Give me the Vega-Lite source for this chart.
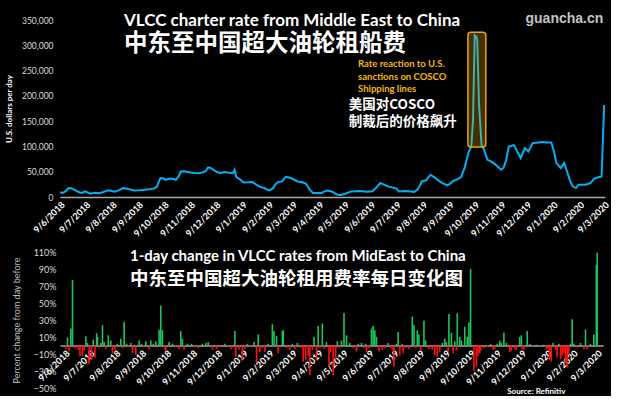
{
  "$schema": "https://vega.github.io/schema/vega-lite/v6.json",
  "background": "black",
  "padding": {"left": 5, "top": 11, "right": 0, "bottom": 0},
  "bounds": "flush",
  "spacing": 55,
  "config": {
    "view": {"stroke": null},
    "font": "Lato",
    "axis": {"grid": false, "ticks": false, "labelFont": "Lato", "titleFont": "Lato"}
  },
  "datasets": {
    "rate": [
      {"d": "2018-06-09", "v": 9000}, {"d": "2018-06-13", "v": 8500}, {"d": "2018-06-16", "v": 12000}, {"d": "2018-06-19", "v": 17800},
      {"d": "2018-06-22", "v": 17500}, {"d": "2018-06-26", "v": 14000}, {"d": "2018-07-02", "v": 9000}, {"d": "2018-07-05", "v": 8000},
      {"d": "2018-07-08", "v": 11000}, {"d": "2018-07-11", "v": 9500}, {"d": "2018-07-14", "v": 6500}, {"d": "2018-07-20", "v": 8500},
      {"d": "2018-07-25", "v": 7500}, {"d": "2018-07-29", "v": 9500}, {"d": "2018-08-04", "v": 13000}, {"d": "2018-08-08", "v": 12500},
      {"d": "2018-08-12", "v": 10500}, {"d": "2018-08-17", "v": 13000}, {"d": "2018-08-22", "v": 17700}, {"d": "2018-08-27", "v": 16500},
      {"d": "2018-09-04", "v": 13000}, {"d": "2018-09-10", "v": 13500}, {"d": "2018-09-17", "v": 14500}, {"d": "2018-09-24", "v": 15800},
      {"d": "2018-09-28", "v": 17000}, {"d": "2018-10-01", "v": 21000}, {"d": "2018-10-03", "v": 30000}, {"d": "2018-10-05", "v": 37500},
      {"d": "2018-10-08", "v": 37000}, {"d": "2018-10-11", "v": 34000}, {"d": "2018-10-14", "v": 35500}, {"d": "2018-10-18", "v": 36500},
      {"d": "2018-10-23", "v": 34000}, {"d": "2018-10-26", "v": 40000}, {"d": "2018-10-29", "v": 50500}, {"d": "2018-11-02", "v": 51000},
      {"d": "2018-11-07", "v": 49000}, {"d": "2018-11-14", "v": 47300}, {"d": "2018-11-19", "v": 47000}, {"d": "2018-11-23", "v": 48600},
      {"d": "2018-11-27", "v": 51000}, {"d": "2018-11-30", "v": 58500}, {"d": "2018-12-03", "v": 57500}, {"d": "2018-12-07", "v": 52600},
      {"d": "2018-12-11", "v": 49000}, {"d": "2018-12-15", "v": 47300}, {"d": "2018-12-19", "v": 49300}, {"d": "2018-12-24", "v": 47800},
      {"d": "2018-12-29", "v": 47300}, {"d": "2018-12-31", "v": 54000}, {"d": "2019-01-02", "v": 39500}, {"d": "2019-01-06", "v": 35500},
      {"d": "2019-01-09", "v": 30800}, {"d": "2019-01-11", "v": 28900}, {"d": "2019-01-16", "v": 29000}, {"d": "2019-01-21", "v": 29500},
      {"d": "2019-01-26", "v": 24000}, {"d": "2019-01-30", "v": 20000}, {"d": "2019-02-04", "v": 17700}, {"d": "2019-02-07", "v": 14500},
      {"d": "2019-02-10", "v": 13000}, {"d": "2019-02-14", "v": 17000}, {"d": "2019-02-17", "v": 25000}, {"d": "2019-02-20", "v": 29500},
      {"d": "2019-02-25", "v": 30800}, {"d": "2019-03-01", "v": 40000}, {"d": "2019-03-05", "v": 38500}, {"d": "2019-03-09", "v": 36100},
      {"d": "2019-03-15", "v": 30800}, {"d": "2019-03-20", "v": 29500}, {"d": "2019-03-25", "v": 26200}, {"d": "2019-03-29", "v": 15000},
      {"d": "2019-04-02", "v": 7900}, {"d": "2019-04-07", "v": 8000}, {"d": "2019-04-12", "v": 7900}, {"d": "2019-04-18", "v": 13000},
      {"d": "2019-04-24", "v": 11000}, {"d": "2019-04-28", "v": 7000}, {"d": "2019-05-01", "v": 4500}, {"d": "2019-05-05", "v": 4200},
      {"d": "2019-05-09", "v": 5800}, {"d": "2019-05-13", "v": 8500}, {"d": "2019-05-17", "v": 11000}, {"d": "2019-05-22", "v": 11500},
      {"d": "2019-05-27", "v": 12000}, {"d": "2019-06-04", "v": 10500}, {"d": "2019-06-11", "v": 11500}, {"d": "2019-06-15", "v": 17700},
      {"d": "2019-06-20", "v": 27600}, {"d": "2019-06-24", "v": 25000}, {"d": "2019-06-29", "v": 21000}, {"d": "2019-07-04", "v": 19000},
      {"d": "2019-07-09", "v": 17000}, {"d": "2019-07-12", "v": 11000}, {"d": "2019-07-20", "v": 12000}, {"d": "2019-07-26", "v": 11000},
      {"d": "2019-07-30", "v": 10000}, {"d": "2019-08-03", "v": 15000}, {"d": "2019-08-05", "v": 21000}, {"d": "2019-08-08", "v": 30800},
      {"d": "2019-08-13", "v": 33000}, {"d": "2019-08-18", "v": 44000}, {"d": "2019-08-24", "v": 37500}, {"d": "2019-08-28", "v": 32000},
      {"d": "2019-09-01", "v": 27600}, {"d": "2019-09-07", "v": 23000}, {"d": "2019-09-10", "v": 26000}, {"d": "2019-09-13", "v": 30800},
      {"d": "2019-09-19", "v": 35500}, {"d": "2019-09-23", "v": 39500}, {"d": "2019-09-27", "v": 57200}, {"d": "2019-10-02", "v": 90000},
      {"d": "2019-10-05", "v": 100000}, {"d": "2019-10-07", "v": 152000}, {"d": "2019-10-09", "v": 320000}, {"d": "2019-10-11", "v": 317000},
      {"d": "2019-10-12", "v": 309000}, {"d": "2019-10-14", "v": 186000}, {"d": "2019-10-17", "v": 103000}, {"d": "2019-10-20", "v": 93400},
      {"d": "2019-10-24", "v": 73600}, {"d": "2019-10-28", "v": 70300}, {"d": "2019-11-01", "v": 66000}, {"d": "2019-11-05", "v": 60400},
      {"d": "2019-11-09", "v": 53900}, {"d": "2019-11-12", "v": 58000}, {"d": "2019-11-15", "v": 73600}, {"d": "2019-11-18", "v": 100000},
      {"d": "2019-11-21", "v": 101000}, {"d": "2019-11-24", "v": 103000}, {"d": "2019-11-28", "v": 90000}, {"d": "2019-12-02", "v": 77000},
      {"d": "2019-12-07", "v": 96700}, {"d": "2019-12-11", "v": 90000}, {"d": "2019-12-16", "v": 106600}, {"d": "2019-12-21", "v": 107500},
      {"d": "2019-12-27", "v": 108600}, {"d": "2020-01-02", "v": 108000}, {"d": "2020-01-07", "v": 107800}, {"d": "2020-01-10", "v": 90000},
      {"d": "2020-01-13", "v": 67100}, {"d": "2020-01-18", "v": 57200}, {"d": "2020-01-22", "v": 67100}, {"d": "2020-01-26", "v": 47400},
      {"d": "2020-01-29", "v": 32000}, {"d": "2020-02-01", "v": 21000}, {"d": "2020-02-05", "v": 17700}, {"d": "2020-02-08", "v": 24300},
      {"d": "2020-02-12", "v": 24000}, {"d": "2020-02-16", "v": 24300}, {"d": "2020-02-22", "v": 27600}, {"d": "2020-02-26", "v": 36100},
      {"d": "2020-03-03", "v": 39500}, {"d": "2020-03-06", "v": 40600}, {"d": "2020-03-09", "v": 182000}
    ],
    "change": [
      {"d": "2018-06-10", "p": -0.04}, {"d": "2018-06-12", "p": 0.095}, {"d": "2018-06-14", "p": -0.07}, {"d": "2018-06-16", "p": 0.2},
      {"d": "2018-06-18", "p": 0.77}, {"d": "2018-06-21", "p": -0.03}, {"d": "2018-06-25", "p": -0.05}, {"d": "2018-06-27", "p": -0.13},
      {"d": "2018-06-30", "p": -0.12}, {"d": "2018-07-02", "p": -0.06}, {"d": "2018-07-04", "p": 0.11}, {"d": "2018-07-06", "p": 0.03},
      {"d": "2018-07-08", "p": -0.22}, {"d": "2018-07-11", "p": -0.17}, {"d": "2018-07-13", "p": 0.07}, {"d": "2018-07-15", "p": -0.14},
      {"d": "2018-07-17", "p": 0.145}, {"d": "2018-07-18", "p": 0.1}, {"d": "2018-07-20", "p": -0.03}, {"d": "2018-07-22", "p": 0.03},
      {"d": "2018-07-24", "p": 0.24}, {"d": "2018-07-26", "p": 0.04}, {"d": "2018-07-28", "p": -0.04}, {"d": "2018-07-31", "p": 0.12},
      {"d": "2018-08-03", "p": 0.06}, {"d": "2018-08-05", "p": -0.09}, {"d": "2018-08-08", "p": -0.06}, {"d": "2018-08-11", "p": 0.02},
      {"d": "2018-08-15", "p": 0.08}, {"d": "2018-08-17", "p": -0.03}, {"d": "2018-08-19", "p": 0.276}, {"d": "2018-08-22", "p": 0.02},
      {"d": "2018-08-24", "p": -0.02}, {"d": "2018-08-27", "p": 0.03}, {"d": "2018-08-29", "p": -0.09}, {"d": "2018-09-02", "p": -0.11},
      {"d": "2018-09-06", "p": 0.06}, {"d": "2018-09-09", "p": 0.02}, {"d": "2018-09-11", "p": -0.02}, {"d": "2018-09-14", "p": 0.05},
      {"d": "2018-09-18", "p": -0.04}, {"d": "2018-09-20", "p": 0.06}, {"d": "2018-09-23", "p": 0.02}, {"d": "2018-09-26", "p": 0.05},
      {"d": "2018-09-30", "p": 0.186}, {"d": "2018-10-02", "p": 0.47}, {"d": "2018-10-04", "p": 0.18}, {"d": "2018-10-07", "p": -0.05},
      {"d": "2018-10-08", "p": -0.06}, {"d": "2018-10-12", "p": 0.04}, {"d": "2018-10-16", "p": 0.02}, {"d": "2018-10-20", "p": -0.02},
      {"d": "2018-10-24", "p": -0.04}, {"d": "2018-10-26", "p": 0.17}, {"d": "2018-10-28", "p": 0.08}, {"d": "2018-10-30", "p": -0.05},
      {"d": "2018-11-03", "p": 0.02}, {"d": "2018-11-08", "p": 0.02}, {"d": "2018-11-12", "p": -0.02}, {"d": "2018-11-16", "p": -0.03},
      {"d": "2018-11-21", "p": 0.02}, {"d": "2018-11-25", "p": 0.03}, {"d": "2018-11-28", "p": 0.04}, {"d": "2018-12-03", "p": -0.05},
      {"d": "2018-12-08", "p": -0.04}, {"d": "2018-12-12", "p": -0.02}, {"d": "2018-12-18", "p": 0.02}, {"d": "2018-12-22", "p": -0.02},
      {"d": "2018-12-26", "p": -0.04}, {"d": "2018-12-30", "p": 0.17}, {"d": "2018-12-31", "p": -0.14}, {"d": "2019-01-04", "p": -0.05},
      {"d": "2019-01-08", "p": -0.16}, {"d": "2019-01-11", "p": -0.04}, {"d": "2019-01-14", "p": 0.02}, {"d": "2019-01-18", "p": -0.02},
      {"d": "2019-01-22", "p": 0.04}, {"d": "2019-01-25", "p": -0.2}, {"d": "2019-01-27", "p": 0.13}, {"d": "2019-01-29", "p": -0.08},
      {"d": "2019-02-01", "p": -0.03}, {"d": "2019-02-04", "p": -0.08}, {"d": "2019-02-08", "p": 0.02}, {"d": "2019-02-13", "p": 0.25},
      {"d": "2019-02-15", "p": 0.17}, {"d": "2019-02-18", "p": 0.11}, {"d": "2019-02-20", "p": -0.09}, {"d": "2019-02-25", "p": 0.17},
      {"d": "2019-02-26", "p": 0.18}, {"d": "2019-03-02", "p": -0.03}, {"d": "2019-03-06", "p": -0.05}, {"d": "2019-03-09", "p": 0.02},
      {"d": "2019-03-12", "p": -0.04}, {"d": "2019-03-15", "p": 0.03}, {"d": "2019-03-19", "p": -0.03}, {"d": "2019-03-22", "p": -0.19},
      {"d": "2019-03-25", "p": -0.17}, {"d": "2019-03-28", "p": -0.12}, {"d": "2019-03-30", "p": -0.35}, {"d": "2019-04-02", "p": -0.05},
      {"d": "2019-04-04", "p": 0.1}, {"d": "2019-04-07", "p": -0.17}, {"d": "2019-04-09", "p": 0.23}, {"d": "2019-04-11", "p": -0.03},
      {"d": "2019-04-14", "p": 0.26}, {"d": "2019-04-16", "p": -0.04}, {"d": "2019-04-19", "p": 0.04}, {"d": "2019-04-22", "p": -0.24},
      {"d": "2019-04-24", "p": -0.08}, {"d": "2019-04-27", "p": -0.35}, {"d": "2019-04-30", "p": -0.17}, {"d": "2019-05-02", "p": 0.05},
      {"d": "2019-05-05", "p": -0.03}, {"d": "2019-05-07", "p": 0.06}, {"d": "2019-05-10", "p": 0.38}, {"d": "2019-05-13", "p": 0.12},
      {"d": "2019-05-17", "p": 0.03}, {"d": "2019-05-21", "p": -0.03}, {"d": "2019-05-25", "p": -0.07}, {"d": "2019-05-27", "p": 0.02},
      {"d": "2019-05-31", "p": 0.03}, {"d": "2019-06-03", "p": -0.03}, {"d": "2019-06-05", "p": 0.02}, {"d": "2019-06-06", "p": -0.08},
      {"d": "2019-06-09", "p": -0.03}, {"d": "2019-06-12", "p": 0.2}, {"d": "2019-06-14", "p": 0.23}, {"d": "2019-06-16", "p": 0.18},
      {"d": "2019-06-18", "p": 0.1}, {"d": "2019-06-21", "p": -0.07}, {"d": "2019-06-25", "p": -0.05}, {"d": "2019-06-28", "p": -0.03},
      {"d": "2019-07-02", "p": 0.03}, {"d": "2019-07-05", "p": -0.03}, {"d": "2019-07-08", "p": -0.07}, {"d": "2019-07-09", "p": -0.25},
      {"d": "2019-07-12", "p": 0.02}, {"d": "2019-07-14", "p": 0.16}, {"d": "2019-07-16", "p": -0.12}, {"d": "2019-07-19", "p": 0.02},
      {"d": "2019-07-20", "p": -0.09}, {"d": "2019-07-23", "p": -0.03}, {"d": "2019-07-27", "p": -0.04}, {"d": "2019-07-31", "p": 0.34},
      {"d": "2019-08-02", "p": 0.24}, {"d": "2019-08-04", "p": -0.03}, {"d": "2019-08-06", "p": 0.18}, {"d": "2019-08-08", "p": 0.13},
      {"d": "2019-08-10", "p": -0.06}, {"d": "2019-08-14", "p": 0.29}, {"d": "2019-08-16", "p": 0.06}, {"d": "2019-08-20", "p": -0.04},
      {"d": "2019-08-24", "p": -0.05}, {"d": "2019-08-27", "p": -0.11}, {"d": "2019-08-30", "p": -0.13}, {"d": "2019-09-02", "p": -0.08},
      {"d": "2019-09-05", "p": 0.03}, {"d": "2019-09-08", "p": 0.08}, {"d": "2019-09-10", "p": 0.04}, {"d": "2019-09-12", "p": -0.07},
      {"d": "2019-09-13", "p": 0.37}, {"d": "2019-09-16", "p": 0.15}, {"d": "2019-09-18", "p": -0.09}, {"d": "2019-09-20", "p": 0.05},
      {"d": "2019-09-22", "p": -0.06}, {"d": "2019-09-23", "p": 0.38}, {"d": "2019-09-26", "p": 0.1}, {"d": "2019-09-28", "p": 0.06},
      {"d": "2019-10-02", "p": 0.22}, {"d": "2019-10-05", "p": 0.1}, {"d": "2019-10-07", "p": 0.27}, {"d": "2019-10-09", "p": 0.9},
      {"d": "2019-10-13", "p": -0.3}, {"d": "2019-10-16", "p": -0.25}, {"d": "2019-10-18", "p": -0.12}, {"d": "2019-10-20", "p": -0.09},
      {"d": "2019-10-21", "p": -0.06}, {"d": "2019-10-25", "p": -0.03}, {"d": "2019-10-29", "p": -0.02}, {"d": "2019-11-02", "p": 0.02},
      {"d": "2019-11-05", "p": -0.05}, {"d": "2019-11-07", "p": -0.04}, {"d": "2019-11-10", "p": 0.02}, {"d": "2019-11-13", "p": 0.06},
      {"d": "2019-11-15", "p": 0.03}, {"d": "2019-11-18", "p": 0.15}, {"d": "2019-11-21", "p": 0.03}, {"d": "2019-11-25", "p": -0.08},
      {"d": "2019-11-27", "p": -0.06}, {"d": "2019-12-01", "p": -0.04}, {"d": "2019-12-03", "p": -0.05}, {"d": "2019-12-07", "p": 0.1},
      {"d": "2019-12-09", "p": 0.12}, {"d": "2019-12-10", "p": -0.04}, {"d": "2019-12-12", "p": -0.05}, {"d": "2019-12-16", "p": 0.17},
      {"d": "2019-12-19", "p": 0.02}, {"d": "2019-12-23", "p": -0.01}, {"d": "2019-12-27", "p": 0.01}, {"d": "2020-01-01", "p": -0.01},
      {"d": "2020-01-04", "p": 0.01}, {"d": "2020-01-08", "p": -0.05}, {"d": "2020-01-10", "p": -0.03}, {"d": "2020-01-12", "p": -0.17},
      {"d": "2020-01-14", "p": -0.19}, {"d": "2020-01-16", "p": 0.03}, {"d": "2020-01-19", "p": -0.05}, {"d": "2020-01-21", "p": -0.14},
      {"d": "2020-01-23", "p": 0.02}, {"d": "2020-01-25", "p": -0.16}, {"d": "2020-01-27", "p": -0.12}, {"d": "2020-01-29", "p": -0.09},
      {"d": "2020-01-31", "p": -0.21}, {"d": "2020-02-02", "p": -0.26}, {"d": "2020-02-04", "p": -0.11}, {"d": "2020-02-06", "p": 0.02},
      {"d": "2020-02-08", "p": 0.31}, {"d": "2020-02-10", "p": 0.02}, {"d": "2020-02-14", "p": -0.02}, {"d": "2020-02-18", "p": 0.03},
      {"d": "2020-02-22", "p": -0.04}, {"d": "2020-02-24", "p": 0.19}, {"d": "2020-02-26", "p": -0.04}, {"d": "2020-03-01", "p": 0.02},
      {"d": "2020-03-05", "p": 0.13}, {"d": "2020-03-08", "p": 0.95}, {"d": "2020-03-09", "p": 1.09}
    ]
  },
  "vconcat": [
    {
      "width": 545,
      "height": 177,
      "resolve": {"axis": {"x": "independent", "y": "independent"}},
      "title": {
        "text": "VLCC charter rate from Middle East to China",
        "subtitle": "中东至中国超大油轮租船费",
        "anchor": "start",
        "frame": "group",
        "dx": 64,
        "offset": -45,
        "color": "white",
        "font": "Lato",
        "fontSize": 17,
        "fontWeight": "bold",
        "subtitleColor": "white",
        "subtitleFont": "Noto Sans CJK SC",
        "subtitleFontSize": 23.5,
        "subtitleFontWeight": "bold",
        "subtitlePadding": 2
      },
      "layer": [
        {
          "data": {"name": "rate"},
          "mark": {"type": "line", "color": "#00b0f0", "strokeWidth": 2},
          "encoding": {
            "x": {
              "field": "d", "type": "temporal",
              "scale": {"type": "utc", "domain": [{"year": 2018, "month": 6, "date": 9, "utc": true}, {"year": 2020, "month": 3, "date": 10, "utc": true}]},
              "axis": {
                "title": null,
                "values": [
                  {"year": 2018, "month": 6, "date": 9, "utc": true}, {"year": 2018, "month": 7, "date": 9, "utc": true},
                  {"year": 2018, "month": 8, "date": 9, "utc": true}, {"year": 2018, "month": 9, "date": 9, "utc": true},
                  {"year": 2018, "month": 10, "date": 9, "utc": true}, {"year": 2018, "month": 11, "date": 9, "utc": true},
                  {"year": 2018, "month": 12, "date": 9, "utc": true}, {"year": 2019, "month": 1, "date": 9, "utc": true},
                  {"year": 2019, "month": 2, "date": 9, "utc": true}, {"year": 2019, "month": 3, "date": 9, "utc": true},
                  {"year": 2019, "month": 4, "date": 9, "utc": true}, {"year": 2019, "month": 5, "date": 9, "utc": true},
                  {"year": 2019, "month": 6, "date": 9, "utc": true}, {"year": 2019, "month": 7, "date": 9, "utc": true},
                  {"year": 2019, "month": 8, "date": 9, "utc": true}, {"year": 2019, "month": 9, "date": 9, "utc": true},
                  {"year": 2019, "month": 10, "date": 9, "utc": true}, {"year": 2019, "month": 11, "date": 9, "utc": true},
                  {"year": 2019, "month": 12, "date": 9, "utc": true}, {"year": 2020, "month": 1, "date": 9, "utc": true},
                  {"year": 2020, "month": 2, "date": 9, "utc": true}, {"year": 2020, "month": 3, "date": 9, "utc": true}
                ],
                "format": "%-d/%-m/%Y",
                "labelAngle": -45,
                "labelColor": "white",
                "labelFontSize": 9,
                "labelFontWeight": "bold",
                "labelPadding": 3,
                "labelOverlap": false,
                "labelBound": false,
                "labelFlush": false,
                "domainColor": "#a6a6a6",
                "domainWidth": 1.5
              }
            },
            "y": {
              "field": "v", "type": "quantitative",
              "scale": {"domain": [0, 350000], "nice": false},
              "axis": {
                "title": "U.S. dollars per day",
                "titleColor": "white",
                "titleFontSize": 8,
                "titleFontWeight": "bold",
                "titlePadding": 8,
                "values": [0, 50000, 100000, 150000, 200000, 250000, 300000, 350000],
                "format": ",.0f",
                "labelOverlap": false,
                "labelColor": "#d9d9d9",
                "labelFontSize": 8.5,
                "labelPadding": 7,
                "domain": false
              }
            }
          }
        },
        {
          "data": {"values": [{}]},
          "mark": {"type": "rect", "fill": "#f0a800", "fillOpacity": 0.28, "stroke": "#e8a60c", "strokeWidth": 1.5, "cornerRadius": 3},
          "encoding": {
            "x": {"datum": {"year": 2019, "month": 10, "date": 1, "utc": true}, "type": "temporal", "axis": null},
            "x2": {"datum": {"year": 2019, "month": 10, "date": 22, "utc": true}},
            "y": {"datum": 99000, "type": "quantitative", "axis": null},
            "y2": {"datum": 326000}
          }
        },
        {
          "data": {"values": [{}]},
          "mark": {"type": "text", "text": ["Rate reaction to U.S.", "sanctions on COSCO", "Shipping lines"], "align": "left", "baseline": "top", "color": "#f5b800", "fontSize": 9.5, "fontWeight": "bold", "font": "Lato", "lineHeight": 12.5},
          "encoding": {
            "x": {"datum": {"year": 2019, "month": 5, "date": 25, "utc": true}, "type": "temporal", "axis": null},
            "y": {"datum": 272000, "type": "quantitative", "axis": null}
          }
        },
        {
          "data": {"values": [{}]},
          "mark": {"type": "text", "text": ["美国对COSCO", "制裁后的价格飙升"], "align": "left", "baseline": "top", "color": "white", "fontSize": 13.5, "fontWeight": "bold", "font": "Noto Sans CJK SC", "lineHeight": 17.5},
          "encoding": {
            "x": {"datum": {"year": 2019, "month": 5, "date": 14, "utc": true}, "type": "temporal", "axis": null},
            "y": {"datum": 196000, "type": "quantitative", "axis": null}
          }
        },
        {
          "data": {"values": [{}]},
          "mark": {"type": "text", "text": "guancha.cn", "align": "right", "baseline": "middle", "color": "#c4c4c4", "fontSize": 14, "fontWeight": "bold", "font": "Liberation Sans"},
          "encoding": {
            "x": {"datum": {"year": 2020, "month": 3, "date": 8, "utc": true}, "type": "temporal", "axis": null},
            "y": {"datum": 352000, "type": "quantitative", "axis": null}
          }
        }
      ]
    },
    {
      "width": 543,
      "height": 136,
      "resolve": {"axis": {"x": "independent", "y": "independent"}},
      "title": {
        "text": "1-day change in VLCC rates from MidEast to China",
        "subtitle": "中东至中国超大油轮租用费率每日变化图",
        "anchor": "start",
        "frame": "group",
        "dx": 70,
        "offset": -40,
        "color": "white",
        "font": "Lato",
        "fontSize": 15,
        "fontWeight": "bold",
        "subtitleColor": "white",
        "subtitleFont": "Noto Sans CJK SC",
        "subtitleFontSize": 18.5,
        "subtitleFontWeight": "bold",
        "subtitlePadding": 6
      },
      "layer": [
        {
          "data": {"name": "change"},
          "mark": {"type": "bar", "width": 1.6},
          "encoding": {
            "x": {
              "field": "d", "type": "temporal",
              "scale": {"type": "utc", "domain": [{"year": 2018, "month": 6, "date": 9, "utc": true}, {"year": 2020, "month": 3, "date": 10, "utc": true}]},
              "axis": {
                "title": null,
                "offset": -42.5,
                "values": [
                  {"year": 2018, "month": 6, "date": 9, "utc": true}, {"year": 2018, "month": 7, "date": 9, "utc": true},
                  {"year": 2018, "month": 8, "date": 9, "utc": true}, {"year": 2018, "month": 9, "date": 9, "utc": true},
                  {"year": 2018, "month": 10, "date": 9, "utc": true}, {"year": 2018, "month": 11, "date": 9, "utc": true},
                  {"year": 2018, "month": 12, "date": 9, "utc": true}, {"year": 2019, "month": 1, "date": 9, "utc": true},
                  {"year": 2019, "month": 2, "date": 9, "utc": true}, {"year": 2019, "month": 3, "date": 9, "utc": true},
                  {"year": 2019, "month": 4, "date": 9, "utc": true}, {"year": 2019, "month": 5, "date": 9, "utc": true},
                  {"year": 2019, "month": 6, "date": 9, "utc": true}, {"year": 2019, "month": 7, "date": 9, "utc": true},
                  {"year": 2019, "month": 8, "date": 9, "utc": true}, {"year": 2019, "month": 9, "date": 9, "utc": true},
                  {"year": 2019, "month": 10, "date": 9, "utc": true}, {"year": 2019, "month": 11, "date": 9, "utc": true},
                  {"year": 2019, "month": 12, "date": 9, "utc": true}, {"year": 2020, "month": 1, "date": 9, "utc": true},
                  {"year": 2020, "month": 2, "date": 9, "utc": true}, {"year": 2020, "month": 3, "date": 9, "utc": true}
                ],
                "format": "%-d/%-m/%Y",
                "labelAngle": -45,
                "labelColor": "white",
                "labelFontSize": 9,
                "labelFontWeight": "bold",
                "labelPadding": 3,
                "labelOverlap": false,
                "labelBound": false,
                "labelFlush": false,
                "domainColor": "#a6a6a6",
                "domainWidth": 1.5
              }
            },
            "y": {
              "field": "p", "type": "quantitative",
              "scale": {"domain": [-0.5, 1.1], "nice": false, "zero": false},
              "axis": {
                "title": "Percent change from day before",
                "titleColor": "#bfbfbf",
                "titleFontSize": 9,
                "titleFontWeight": "normal",
                "titlePadding": 12,
                "values": [-0.5, -0.3, -0.1, 0.1, 0.3, 0.5, 0.7, 0.9, 1.1],
                "format": ".0%",
                "labelOverlap": false,
                "labelColor": "#d9d9d9",
                "labelFontSize": 9,
                "labelPadding": 4,
                "domain": false
              }
            },
            "color": {"condition": {"test": "datum.p >= 0", "value": "#1ec45a"}, "value": "#ff1010"}
          }
        },
        {
          "data": {"values": [{}]},
          "mark": {"type": "text", "text": "Source: Refinitiv", "align": "left", "baseline": "middle", "color": "white", "fontSize": 8, "fontWeight": "bold", "font": "Lato"},
          "encoding": {
            "x": {"datum": {"year": 2019, "month": 11, "date": 22, "utc": true}, "type": "temporal", "axis": null},
            "y": {"datum": -0.545, "type": "quantitative", "axis": null}
          }
        }
      ]
    }
  ]
}
